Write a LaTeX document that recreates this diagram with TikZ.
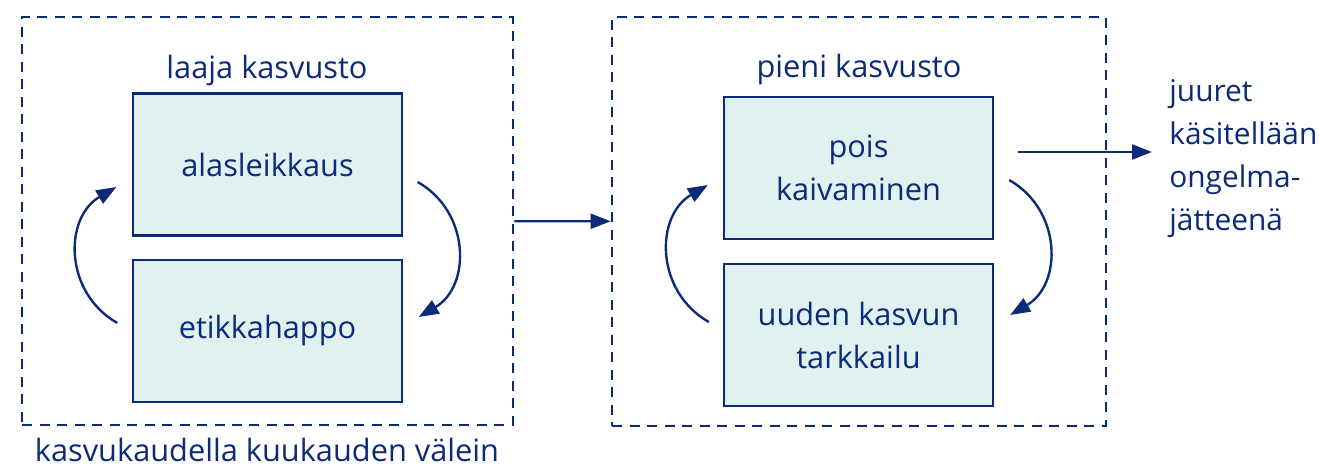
\documentclass[tikz,border=0pt]{standalone}
\usepackage{fontspec}
\setmainfont{Open Sans}
\usetikzlibrary{arrows.meta, positioning}
\definecolor{navy}{HTML}{0B2A78}
\definecolor{mint}{HTML}{E1F1F0}

\begin{document}
\begin{tikzpicture}[
    x=0.02cm, y=-0.02cm,
    txt/.style={text=navy, font=\fontsize{17.5pt}{24.5pt}\selectfont},
    flow/.style={-{Triangle[length=0.4cm, width=0.3cm]}, navy, line width=1.35pt},
    cyclearrow/.style={flow, bend left=60, looseness=1.15},
    stage/.style={txt, draw=navy, fill=mint, line width=1.35pt, minimum width=5.38cm, minimum height=2.84cm, align=center},
    group/.style={draw=navy, dash pattern=on 0.2cm off 0.15cm, line width=1.6pt, inner sep=0},
    grouplabel/.style={txt, anchor=base, inner sep=0}
]
\useasboundingbox (0,0) rectangle (1319,466);

\node[group, minimum width=9.82cm, minimum height=8.16cm] (wide) at (267.5,221) {};
\node[group, minimum width=9.88cm, minimum height=8.18cm] (small) at (859,221.5) {};

\node[grouplabel] (widelabel) at (267,79) {laaja kasvusto};
\node[grouplabel] (smalllabel) at (859,78) {pieni kasvusto};
\node[grouplabel] (interval) at (267,461) {kasvukaudella kuukauden välein};

\node[stage] (cut) at (267.5,164.5) {alasleikkaus};
\node[stage] (acid) at (267.5,331) {etikkahappo};
\node[stage] (dig) at (858.5,168) {pois\\kaivaminen};
\node[stage] (watch) at (858.5,335) {uuden kasvun\\tarkkailu};

\node[txt, font=\fontsize{17pt}{24.5pt}\selectfont, align=left, anchor=north west, inner sep=0] (waste) at (1169,79) {juuret\\käsitellään\\ongelma-\\jätteenä};

\draw[cyclearrow] ([shift={(-14.5,-8)}]acid.west) to ([shift={(-15.5,22.5)}]cut.west);
\draw[cyclearrow] ([shift={(14.5,17.5)}]cut.east) to ([shift={(15.5,-14)}]acid.east);
\draw[cyclearrow] ([shift={(-14,-13)}]watch.west) to ([shift={(-15,17)}]dig.west);
\draw[cyclearrow] ([shift={(15,12)}]dig.east) to ([shift={(16,-20)}]watch.east);

\draw[flow] (wide) -- (small);

\coordinate (exit) at ([shift={(24,-16)}]dig.east);
\draw[flow, shorten >=0.34cm] (exit) -- (exit -| waste.west);

\end{tikzpicture}
\end{document}
